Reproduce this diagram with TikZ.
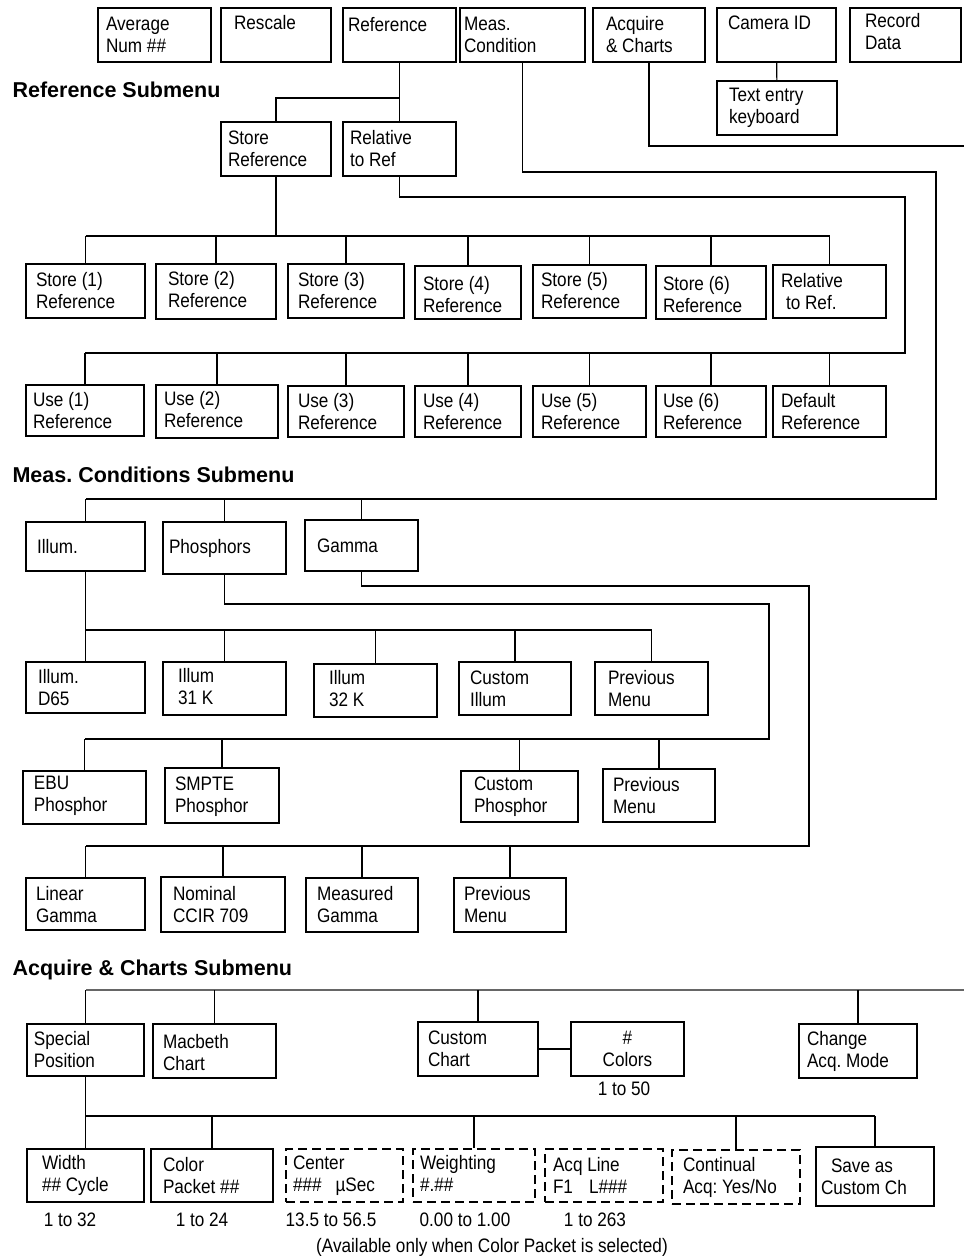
\documentclass[tikz,border=0pt]{standalone}
\usepackage{fontspec}
\setmainfont{Liberation Sans}
\newfontfamily\boxfont{Liberation Sans}[FakeStretch=0.88]
\usetikzlibrary{fit}
% box with its text: [box opts]{name}{corner}{corner}{indent}{shift}{text}
\newcommand{\menubox}[7][]{%
 \node[box,#1,fit={(#3) (#4)}] (#2) {};
 \node[txt,xshift=#5pt,yshift=#6pt] (#2-t) at (#2.west) {#7};}

\begin{document}
\frenchspacing
\begin{tikzpicture}[x=1pt,y=-1pt,line width=1.1pt,
 box/.style={draw,rectangle,inner sep=0pt},
 dbox/.style={dash pattern=on 9pt off 5pt},
 txt/.style={anchor=west,align=left,inner sep=0pt,font=\boxfont\fontsize{19.5pt}{22pt}\selectfont},
 head/.style={anchor=base west,inner sep=0pt,font=\fontsize{21.5pt}{26pt}\selectfont\bfseries},
 note/.style={anchor=base,inner sep=0pt,font=\boxfont\fontsize{19.5pt}{22pt}\selectfont},
 graybus/.style={line width=2pt,black!60}]
 \fill[white] (0,0) rectangle (964,1256);
 \useasboundingbox (0,0) rectangle (964,1256);
 % main menu
 \menubox{ave}{98,8}{211,62}{8}{0}{Average\\Num \#\#}
 \menubox{resc}{221,8}{331,62}{13}{12}{Rescale}
 \menubox{ref}{343,8}{456,62}{5}{10}{Reference}
 \menubox{meas}{460,8}{585,62}{4}{0}{Meas.\\Condition}
 \menubox{acq}{593,8}{705,62}{13}{0}{Acquire\\\& Charts}
 \menubox{cam}{717,8}{836,62}{11}{12}{Camera ID}
 \menubox{rec}{850,8}{961,62}{15}{3}{Record\\Data}
 \menubox{keyb}{717,81}{837,135}{12}{0}{Text entry\\keyboard}
 \draw (cam) -- (keyb);
 % Reference submenu
 \node[head] (hRef) at (12,97) {Reference Submenu};
 \menubox{stref}{221,122}{331,176}{7}{0}{Store\\Reference}
 \menubox{rel}{343,122}{456,176}{7}{0}{Relative\\to Ref}
 \coordinate (refbus) at (0,98);
 \draw (ref) -- (rel);
 \draw (ref |- refbus) -| (stref);
 \menubox{s1}{26,264}{145,318}{10}{0}{Store (1)\\Reference}
 \menubox{s2}{156,264}{276,319}{12}{2}{Store (2)\\Reference}
 \menubox{s3}{288,264}{404,318}{10}{0}{Store (3)\\Reference}
 \menubox{s4}{415,266}{521,319}{8}{-2}{Store (4)\\Reference}
 \menubox{s5}{533,265}{646,318}{8}{1}{Store (5)\\Reference}
 \menubox{s6}{656,266}{766,319}{7}{-2}{Store (6)\\Reference}
 \menubox{s7}{773,265}{886,318}{8}{0}{Relative\\\hspace*{5pt}to Ref.}
 \coordinate (sbus) at (0,236);
 \draw (stref) -- (stref |- sbus);
 \draw (s1 |- sbus) -- (s7 |- sbus);
 \foreach \n in {s1,s2,s3,s4,s5,s6,s7} \draw (\n |- sbus) -- (\n);
 \menubox{u1}{26,385}{144,436}{7}{0}{Use (1)\\Reference}
 \menubox{u2}{156,385}{278,438}{8}{2}{Use (2)\\Reference}
 \menubox{u3}{288,386}{404,437}{10}{0}{Use (3)\\Reference}
 \menubox{u4}{415,386}{521,437}{8}{0}{Use (4)\\Reference}
 \menubox{u5}{533,386}{646,437}{8}{0}{Use (5)\\Reference}
 \menubox{u6}{656,386}{766,437}{7}{0}{Use (6)\\Reference}
 \menubox{u7}{773,386}{886,437}{8}{0}{Default\\Reference}
 \coordinate (relturn) at (905,197);
 \coordinate (ubus) at (0,353);
 \draw (rel) |- (relturn) |- (u1 |- ubus);
 \foreach \n in {u1,u2,u3,u4,u5,u6,u7} \draw (\n |- ubus) -- (\n);
 % Meas. Conditions submenu
 \node[head] (hMeas) at (12,482) {Meas. Conditions Submenu};
 \menubox{ill}{26,522}{145,571}{11}{0}{Illum.}
 \menubox{pho}{163,522}{286,574}{6}{0}{Phosphors}
 \menubox{gam}{305,520}{418,571}{12}{0}{Gamma}
 \coordinate (measturn) at (936,172);
 \coordinate (mbus) at (0,499);
 \draw (meas) |- (measturn) |- (ill |- mbus);
 \foreach \n in {ill,pho,gam} \draw (\n |- mbus) -- (\n);
 \menubox{i1}{26,662}{145,713}{12}{0}{Illum.\\D65}
 \menubox{i2}{163,662}{286,715}{15}{2}{Illum\\31 K}
 \menubox{i3}{314,664}{437,717}{15}{2}{Illum\\32 K}
 \menubox{i4}{459,662}{571,715}{11}{0}{Custom\\Illum}
 \menubox{i5}{595,662}{708,715}{13}{0}{Previous\\Menu}
 \coordinate (ibus) at (0,630);
 \draw (ill) -- (i1);
 \draw (i1 |- ibus) -- (i5 |- ibus);
 \foreach \n in {i2,i3,i4,i5} \draw (\n |- ibus) -- (\n);
 \menubox{p1}{23,771}{146,824}{11}{2}{EBU\\Phosphor}
 \menubox{p2}{165,768}{279,823}{10}{-1}{SMPTE\\Phosphor}
 \menubox{p3}{461,771}{578,822}{13}{0}{Custom\\Phosphor}
 \menubox{p4}{603,769}{715,822}{10}{0}{Previous\\Menu}
 \coordinate (phturn) at (769,604);
 \coordinate (pbus) at (0,739);
 \draw (pho) |- (phturn) |- (p1 |- pbus);
 \foreach \n in {p1,p2,p3,p4} \draw (\n |- pbus) -- (\n);
 \menubox{g1}{26,878}{145,930}{10}{-1}{Linear\\Gamma}
 \menubox{g2}{161,877}{285,932}{12}{0}{Nominal\\CCIR 709}
 \menubox{g3}{306,878}{418,932}{11}{0}{Measured\\Gamma}
 \menubox{g4}{454,878}{566,932}{10}{0}{Previous\\Menu}
 \coordinate (gaturn) at (809,586);
 \coordinate (gbus) at (0,846);
 \draw (gam) |- (gaturn) |- (g1 |- gbus);
 \foreach \n in {g1,g2,g3,g4} \draw (\n |- gbus) -- (\n);
 % Acquire & Charts submenu
 \node[head] (hAcq) at (12,975) {Acquire \& Charts Submenu};
 \coordinate (acqout) at (964,146);
 \draw (acq) |- (acqout);
 \menubox{sp}{27,1024}{144,1076}{7}{0}{Special\\Position}
 \menubox{mac}{153,1024}{276,1078}{10}{-2}{Macbeth\\Chart}
 \menubox{cch}{418,1022}{538,1076}{10}{0}{Custom\\Chart}
 \node[box,fit={(571,1022) (684,1076)}] (ncol) {};
 \node[txt,anchor=center,align=center] (ncol-t) at (ncol) {\#\\Colors};
 \menubox{chg}{799,1024}{917,1078}{8}{0}{Change\\Acq. Mode}
 \coordinate (acqin) at (964,990);
 \draw[graybus] (acqin) -- (sp |- acqin);
 \foreach \n in {sp,mac,cch,chg} \draw (\n |- acqin) -- (\n);
 \draw (cch) -- (ncol);
 \menubox{w}{27,1149}{144,1202}{15}{0}{Width\\\#\# Cycle}
 \menubox{cp}{151,1149}{273,1202}{12}{0}{Color\\Packet \#\#}
 \menubox[dbox]{ctr}{286,1149}{403,1202}{7}{0}{Center\\\#\#\#\hspace{14pt}µSec}
 \menubox[dbox]{wt}{413,1149}{535,1202}{7}{2}{Weighting\\\#.\#\#}
 \menubox[dbox]{acql}{545,1149}{663,1202}{8}{0}{Acq Line\\F1\hspace{16pt}L\#\#\#}
 \menubox[dbox]{cont}{672,1150}{800,1204}{11}{0}{Continual\\Acq: Yes/No}
 \menubox{save}{816,1147}{934,1206}{5}{0}{\hspace*{10pt}Save as\\Custom Ch}
 \coordinate (spbus) at (0,1116);
 \draw (sp) -- (w);
 \draw (w |- spbus) -- (save |- spbus);
 \foreach \n in {cp,wt,cont,save} \draw (\n |- spbus) -- (\n);
 % ranges
 \node[note] (rNum) at (624,1095) {1 to 50};
 \node[note] (rWid) at (70,1226) {1 to 32};
 \node[note] (rCol) at (202,1226) {1 to 24};
 \node[note] (rCtr) at (331,1226) {13.5 to 56.5};
 \node[note] (rWt) at (465,1226) {0.00 to 1.00};
 \node[note] (rLine) at (595,1226) {1 to 263};
 \node[note] (avail) at (492,1252) {(Available only when Color Packet is selected)};
\end{tikzpicture}
\end{document}
